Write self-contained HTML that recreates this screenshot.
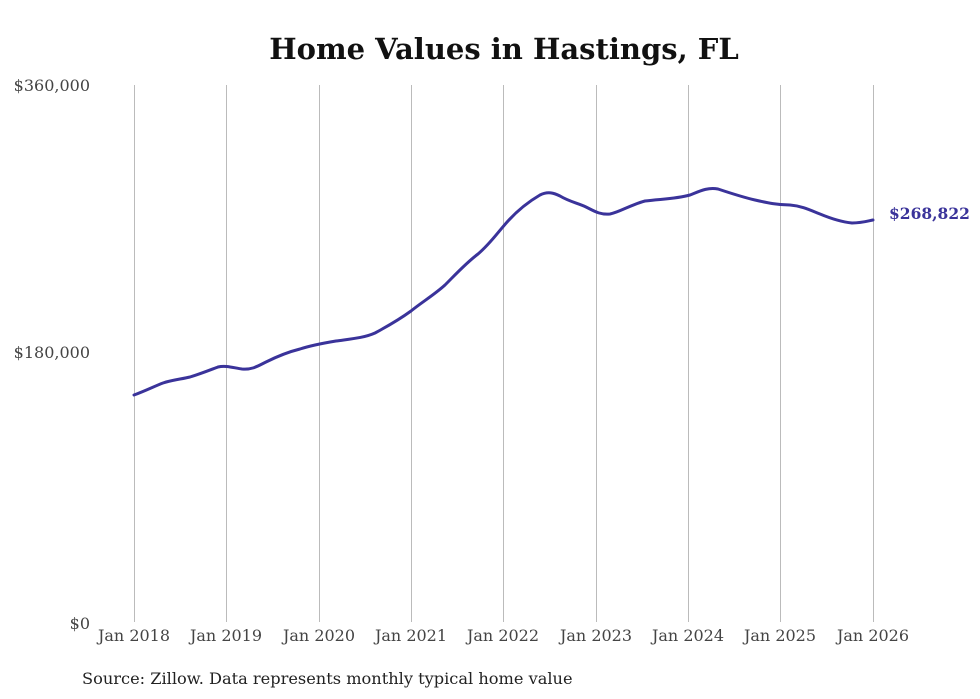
<!DOCTYPE html>
<html><head><meta charset="utf-8"><style>
html,body{margin:0;padding:0;background:#fff;width:980px;height:699px;overflow:hidden}
svg{display:block}
text{font-family:"DejaVu Serif","Liberation Serif",serif}
</style></head><body>
<svg width="980" height="699" viewBox="0 0 980 699">
<text x="504" y="59" text-anchor="middle" font-size="29" font-weight="bold" fill="#111">Home Values in Hastings, FL</text>
<g stroke="#bbb" stroke-width="1">
<line x1="134.5" y1="85" x2="134.5" y2="622"/>
<line x1="226.5" y1="85" x2="226.5" y2="622"/>
<line x1="319.5" y1="85" x2="319.5" y2="622"/>
<line x1="411.5" y1="85" x2="411.5" y2="622"/>
<line x1="503.5" y1="85" x2="503.5" y2="622"/>
<line x1="596.5" y1="85" x2="596.5" y2="622"/>
<line x1="688.5" y1="85" x2="688.5" y2="622"/>
<line x1="780.5" y1="85" x2="780.5" y2="622"/>
<line x1="873.5" y1="85" x2="873.5" y2="622"/>
</g>
<g font-size="16" fill="#444" text-anchor="end">
<text x="90" y="91">$360,000</text>
<text x="90" y="358">$180,000</text>
<text x="90" y="629">$0</text>
</g>
<g font-size="16" fill="#444" text-anchor="middle">
<text x="134" y="641">Jan 2018</text>
<text x="226" y="641">Jan 2019</text>
<text x="319" y="641">Jan 2020</text>
<text x="411" y="641">Jan 2021</text>
<text x="503" y="641">Jan 2022</text>
<text x="596" y="641">Jan 2023</text>
<text x="688" y="641">Jan 2024</text>
<text x="780" y="641">Jan 2025</text>
<text x="873" y="641">Jan 2026</text>
</g>
<path fill="none" stroke="#3a339a" stroke-width="3" stroke-linejoin="round" stroke-linecap="round"
d="M134,395 C145,391 155,386 163,383 C172,380 182,379 190,377 C200,374 210,370 218,367 C226,365 234,368 242,369 C252,370 258,366 266,362 C276,357 288,352 300,349 C312,345 324,343 336,341 C350,339 364,338 375,333 C388,326 400,319 411,311 C422,302 434,295 445,285 C456,274 466,263 478,254 C490,244 498,232 508,221 C518,210 528,202 540,195 C548,191 554,193 560,196 C570,202 578,203 586,207 C594,211 600,215 610,214 C620,212 630,205 645,201 C660,199 676,199 690,195 C700,191 708,187 718,189 C730,193 742,197 755,200 C768,203 778,205 790,205 C802,206 810,210 820,214 C832,219 842,222 852,223 C862,223 868,221 873,220"/>
<text x="889" y="219" font-size="15.5" font-weight="bold" fill="#3a339a">$268,822</text>
<text x="82" y="684" font-size="16.2" fill="#222">Source: Zillow. Data represents monthly typical home value</text>
</svg>
</body></html>
